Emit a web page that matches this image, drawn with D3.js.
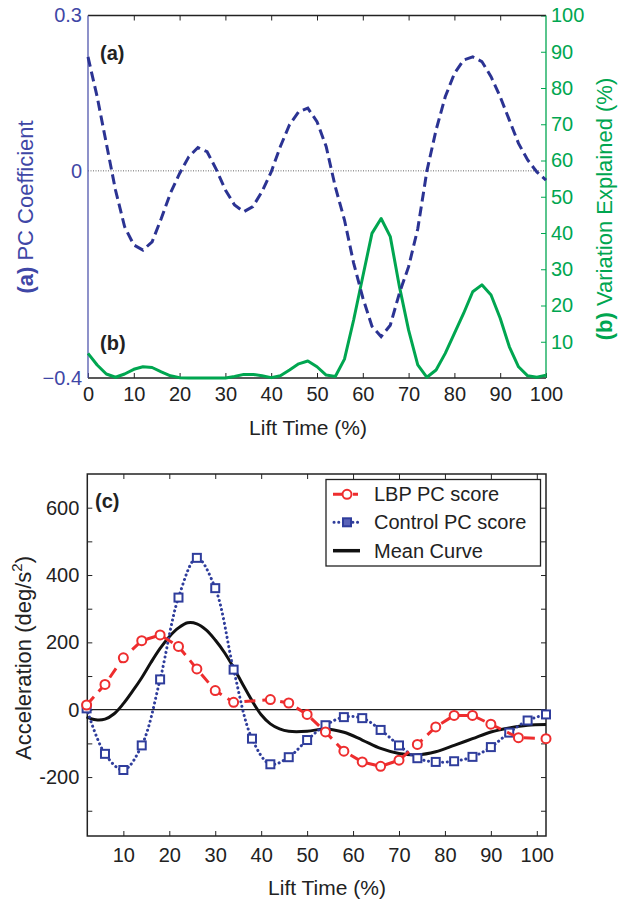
<!DOCTYPE html>
<html>
<head>
<meta charset="utf-8">
<script src="https://cdn.jsdelivr.net/npm/d3@7"></script>
<style>
  body { margin: 0; background: #fff; }
  svg { display: block; font-family: "Liberation Sans", Arial, Helvetica, sans-serif; }
  .tick text { font-size: 20px; }
</style>
</head>
<body>
<svg id="chart" width="620" height="900"></svg>
<script>
// ----- data: panels (a) and (b), lift time sampled every 2 %
const liftTime = d3.range(0, 101, 2);
const pcCoefficient = [
  0.220, 0.143, 0.053, -0.037, -0.108, -0.143, -0.153, -0.137, -0.092, -0.043,
  -0.005, 0.027, 0.045, 0.037, 0.003, -0.037, -0.066, -0.079, -0.069, -0.040,
  -0.002, 0.047, 0.089, 0.114, 0.121, 0.095, 0.047, -0.031, -0.095, -0.178,
  -0.245, -0.300, -0.320, -0.298, -0.236, -0.185, -0.112, 0.000, 0.079, 0.143,
  0.188, 0.214, 0.220, 0.211, 0.182, 0.143, 0.098, 0.053, 0.021, -0.002, -0.018
];
const variationExplained = [
  6.8, 3.6, 1.1, 0.2, 1.1, 2.4, 3.1, 2.9, 1.7, 0.6,
  0.1, 0.0, 0.0, 0.0, 0.0, 0.0, 0.4, 1.0, 1.0, 0.6,
  0.1, 0.6, 2.2, 3.9, 4.7, 3.1, 0.8, 0.4, 5.2, 16.0,
  28.0, 39.9, 44.0, 39.0, 25.2, 13.2, 3.6, 0.2, 2.2, 6.8,
  12.3, 17.8, 23.8, 25.7, 22.9, 16.5, 8.6, 3.1, 0.6, 0.2, 0.8
];

// ----- data: panel (c)
const lbpTime = [2, 6, 10, 14, 18, 22, 26, 30, 34, 42, 46, 50, 54, 58, 62, 66, 70, 74, 78, 82, 86, 90, 96, 102];
const lbpScore = [14, 75, 154, 205, 222, 188, 121, 57, 22, 30, 20, -14, -66, -123, -155, -168, -150, -103, -51, -17, -17, -43, -83, -86];

const controlTime = d3.range(2, 103, 4);
const controlScore = [4, -131, -179, -106, 90, 333, 451, 361, 119, -86, -162, -141, -90, -46, -22, -25, -60, -106, -144, -155, -153, -140, -111, -68, -32, -14];

const meanTime = [2, 4, 6, 8, 10, 12, 14, 16, 18, 20, 22, 24, 26, 28, 30, 32, 34, 36, 38, 40, 42, 44, 46, 50, 54, 58, 62, 66, 70, 74, 78, 82, 86, 90, 94, 98, 102];
const meanCurve = [-21, -30, -28, -12, 18, 55, 95, 140, 182, 217, 243, 258, 255, 237, 207, 170, 125, 75, 27, -15, -42, -57, -64, -64, -57, -67, -90, -115, -130, -134, -125, -106, -86, -66, -54, -46, -44];

// ----- ticks
const topXTicks = d3.range(0, 101, 10);
const pcTicks = [-0.4, 0, 0.3];
const varTicks = d3.range(10, 101, 10);
const bottomXTicks = d3.range(10, 101, 10);
const accTicks = d3.range(-300, 601, 100);
const accLabels = [-200, 0, 200, 400, 600];

const legendNames = ["LBP PC score", "Control PC score", "Mean Curve"];

// ----- colours
const navy = "#2b3393";
const axisBlue = "#3f47a6";
const green = "#00a650";
const red = "#ee2d2e";
const squareBlue = "#2f3d9c";

const svg = d3.select("#chart");

// ================= top panel =================
const boxA = { left: 88, right: 546, top: 15.5, bottom: 378 };

const x1 = d3.scaleLinear().domain([0, 100]).range([boxA.left, boxA.right]);
const yPc = d3.scaleLinear().domain([-0.4, 0.3]).range([boxA.bottom, boxA.top]);
const yVar = d3.scaleLinear().domain([0, 100]).range([boxA.bottom, boxA.top]);

// zero reference line
svg.append("line")
  .attr("x1", boxA.left).attr("x2", boxA.right)
  .attr("y1", yPc(0)).attr("y2", yPc(0))
  .attr("stroke", "#666").attr("stroke-width", 1)
  .attr("stroke-dasharray", "1,1.5");

// bottom axis with inward ticks
svg.append("g")
  .attr("transform", `translate(0,${boxA.bottom})`)
  .call(d3.axisBottom(x1).tickValues(topXTicks).tickSize(-5).tickPadding(9))
  .call(g => g.select(".domain").remove())
  .call(g => g.selectAll("line").attr("stroke", "#222"))
  .call(g => g.selectAll("text").attr("fill", "#222"));

// top ticks
svg.append("g")
  .attr("transform", `translate(0,${boxA.top})`)
  .call(d3.axisTop(x1).tickValues(topXTicks.slice(1, -1)).tickSize(-5).tickFormat(""))
  .call(g => g.select(".domain").remove())
  .call(g => g.selectAll("line").attr("stroke", "#222"));

// left axis (PC coefficient) - labels only
svg.append("g")
  .attr("transform", `translate(${boxA.left},0)`)
  .call(d3.axisLeft(yPc).tickValues(pcTicks).tickSize(0).tickPadding(6).tickFormat(d => d === 0 ? "0" : d3.format(".1f")(d)))
  .call(g => g.select(".domain").remove())
  .call(g => g.selectAll("text").attr("fill", axisBlue));

// right axis (variation explained)
svg.append("g")
  .attr("transform", `translate(${boxA.right},0)`)
  .call(d3.axisRight(yVar).tickValues(varTicks).tickSize(-5).tickPadding(5))
  .call(g => g.select(".domain").remove())
  .call(g => g.selectAll("line").attr("stroke", green))
  .call(g => g.selectAll("text").attr("fill", green));

// frame
svg.append("line").attr("x1", boxA.left).attr("x2", boxA.right).attr("y1", boxA.top).attr("y2", boxA.top)
  .attr("stroke", "#222").attr("stroke-width", 1.3);
svg.append("line").attr("x1", boxA.left).attr("x2", boxA.right).attr("y1", boxA.bottom).attr("y2", boxA.bottom)
  .attr("stroke", "#222").attr("stroke-width", 1.3);
svg.append("line").attr("x1", boxA.left).attr("x2", boxA.left).attr("y1", boxA.top).attr("y2", boxA.bottom)
  .attr("stroke", "#5157ad").attr("stroke-width", 1.3);
svg.append("line").attr("x1", boxA.right).attr("x2", boxA.right).attr("y1", boxA.top).attr("y2", boxA.bottom)
  .attr("stroke", green).attr("stroke-width", 1.3);

// (b) variation explained
svg.append("path")
  .datum(liftTime.map((t, i) => [t, variationExplained[i]]))
  .attr("fill", "none").attr("stroke", green).attr("stroke-width", 3)
  .attr("stroke-linejoin", "round")
  .attr("d", d3.line().x(d => x1(d[0])).y(d => yVar(d[1])));

// (a) PC coefficient
svg.append("path")
  .datum(liftTime.map((t, i) => [t, pcCoefficient[i]]))
  .attr("fill", "none").attr("stroke", navy).attr("stroke-width", 3)
  .attr("stroke-dasharray", "10,5")
  .attr("d", d3.line().x(d => x1(d[0])).y(d => yPc(d[1])));

// panel letters
svg.append("text").attr("x", 100).attr("y", 60).attr("font-size", 20).attr("font-weight", "bold")
  .attr("fill", "#222").text("(a)");
svg.append("text").attr("x", 100).attr("y", 350).attr("font-size", 20).attr("font-weight", "bold")
  .attr("fill", "#222").text("(b)");

// axis titles
const leftTitle = svg.append("text")
  .attr("transform", "translate(33,207) rotate(-90)")
  .attr("text-anchor", "middle").attr("font-size", 22).attr("fill", axisBlue);
leftTitle.append("tspan").attr("font-weight", "bold").text("(a)");
leftTitle.append("tspan").text(" PC Coefficient");

const rightTitle = svg.append("text")
  .attr("transform", "translate(612,209) rotate(-90)")
  .attr("text-anchor", "middle").attr("font-size", 22).attr("fill", green);
rightTitle.append("tspan").attr("font-weight", "bold").text("(b)");
rightTitle.append("tspan").text(" Variation Explained (%)");

svg.append("text").attr("x", 308).attr("y", 435).attr("text-anchor", "middle")
  .attr("font-size", 21).attr("fill", "#222").text("Lift Time (%)");

// ================= bottom panel =================
const boxC = { left: 87.3, right: 546, top: 474, bottom: 836 };

const x2 = d3.scaleLinear().domain([2.15, 102]).range([boxC.left, boxC.right]);
const yAcc = d3.scaleLinear().domain([-375, 700]).range([boxC.bottom, boxC.top]);

// zero line
svg.append("line")
  .attr("x1", boxC.left).attr("x2", boxC.right)
  .attr("y1", yAcc(0)).attr("y2", yAcc(0))
  .attr("stroke", "#222").attr("stroke-width", 1.2);

svg.append("g")
  .attr("transform", `translate(0,${boxC.bottom})`)
  .call(d3.axisBottom(x2).tickValues(bottomXTicks).tickSize(-5).tickPadding(12))
  .call(g => g.select(".domain").remove())
  .call(g => g.selectAll("line").attr("stroke", "#222"))
  .call(g => g.selectAll("text").attr("fill", "#222"));

svg.append("g")
  .attr("transform", `translate(0,${boxC.top})`)
  .call(d3.axisTop(x2).tickValues(bottomXTicks).tickSize(-5).tickFormat(""))
  .call(g => g.select(".domain").remove())
  .call(g => g.selectAll("line").attr("stroke", "#222"));

svg.append("g")
  .attr("transform", `translate(${boxC.left},0)`)
  .call(d3.axisLeft(yAcc).tickValues(accTicks).tickSize(-5).tickPadding(8)
    .tickFormat(d => accLabels.includes(d) ? d : ""))
  .call(g => g.select(".domain").remove())
  .call(g => g.selectAll("line").attr("stroke", "#222"))
  .call(g => g.selectAll("text").attr("fill", "#222"));

svg.append("g")
  .attr("transform", `translate(${boxC.right},0)`)
  .call(d3.axisRight(yAcc).tickValues(accTicks).tickSize(-5).tickFormat(""))
  .call(g => g.select(".domain").remove())
  .call(g => g.selectAll("line").attr("stroke", "#222"));

svg.append("rect")
  .attr("x", boxC.left).attr("y", boxC.top)
  .attr("width", boxC.right - boxC.left).attr("height", boxC.bottom - boxC.top)
  .attr("fill", "none").attr("stroke", "#222").attr("stroke-width", 1.5);

// mean curve
svg.append("path")
  .datum(meanTime.map((t, i) => [t, meanCurve[i]]))
  .attr("fill", "none").attr("stroke", "#111").attr("stroke-width", 3)
  .attr("d", d3.line().x(d => x2(d[0])).y(d => yAcc(d[1])).curve(d3.curveCatmullRom));

// control PC score
const controlData = controlTime.map((t, i) => [t, controlScore[i]]);
svg.append("path")
  .datum(controlData)
  .attr("fill", "none").attr("stroke", squareBlue).attr("stroke-width", 3)
  .attr("stroke-linecap", "round").attr("stroke-dasharray", "0.1,4.6")
  .attr("d", d3.line().x(d => x2(d[0])).y(d => yAcc(d[1])).curve(d3.curveCatmullRom));

svg.append("g").selectAll("rect")
  .data(controlData)
  .join("rect")
  .attr("x", d => x2(d[0]) - 4).attr("y", d => yAcc(d[1]) - 4)
  .attr("width", 8).attr("height", 8)
  .attr("fill", "#fff").attr("stroke", squareBlue).attr("stroke-width", 2);

// LBP PC score
const lbpData = lbpTime.map((t, i) => [t, lbpScore[i]]);
svg.append("path")
  .datum(lbpData)
  .attr("fill", "none").attr("stroke", red).attr("stroke-width", 3)
  .attr("stroke-dasharray", "11,7")
  .attr("d", d3.line().x(d => x2(d[0])).y(d => yAcc(d[1])));

svg.append("g").selectAll("circle")
  .data(lbpData)
  .join("circle")
  .attr("cx", d => x2(d[0])).attr("cy", d => yAcc(d[1])).attr("r", 4.5)
  .attr("fill", "#fff").attr("stroke", red).attr("stroke-width", 2);

// legend
const legend = svg.append("g");
legend.append("rect")
  .attr("x", 326).attr("y", 479.5).attr("width", 214.5).attr("height", 86.5)
  .attr("fill", "#fff").attr("stroke", "#222").attr("stroke-width", 1.3);

const rowY = [494.3, 522.3, 550.7];
legendNames.forEach((name, i) => {
  const y = rowY[i];
  if (i === 0) {
    legend.append("line").attr("x1", 333).attr("x2", 360).attr("y1", y).attr("y2", y)
      .attr("stroke", red).attr("stroke-width", 3).attr("stroke-dasharray", "12,8,5");
    legend.append("circle").attr("cx", 347).attr("cy", y).attr("r", 4.5)
      .attr("fill", "#fff").attr("stroke", red).attr("stroke-width", 2);
  } else if (i === 1) {
    legend.append("line").attr("x1", 334).attr("x2", 360).attr("y1", y).attr("y2", y)
      .attr("stroke", squareBlue).attr("stroke-width", 3)
      .attr("stroke-linecap", "round").attr("stroke-dasharray", "0.1,4.6");
    legend.append("rect").attr("x", 343).attr("y", y - 4).attr("width", 8).attr("height", 8)
      .attr("fill", "#5a63b8").attr("stroke", squareBlue).attr("stroke-width", 2);
  } else {
    legend.append("line").attr("x1", 333).attr("x2", 360).attr("y1", y).attr("y2", y)
      .attr("stroke", "#111").attr("stroke-width", 3.5);
  }
  legend.append("text").attr("x", 374).attr("y", y).attr("dy", "0.35em")
    .attr("font-size", 20).attr("fill", "#222").text(name);
});

svg.append("text").attr("x", 95).attr("y", 508).attr("font-size", 20).attr("font-weight", "bold")
  .attr("fill", "#222").text("(c)");

// axis titles
const accTitle = svg.append("text")
  .attr("transform", "translate(31,658) rotate(-90)")
  .attr("text-anchor", "middle").attr("font-size", 22).attr("fill", "#222");
accTitle.append("tspan").text("Acceleration (deg/s");
accTitle.append("tspan").attr("font-size", 15).attr("dy", -9).text("2");
accTitle.append("tspan").attr("dy", 9).text(")");

svg.append("text").attr("x", 327).attr("y", 895).attr("text-anchor", "middle")
  .attr("font-size", 21).attr("fill", "#222").text("Lift Time (%)");
</script>
</body>
</html>
